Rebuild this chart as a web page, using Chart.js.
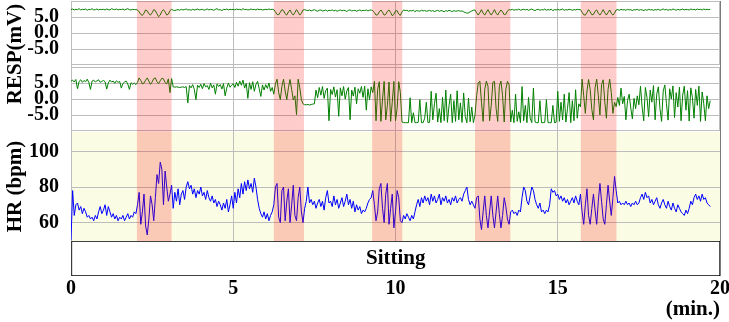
<!DOCTYPE html>
<html>
<head>
<meta charset="utf-8">
<script src="https://cdn.jsdelivr.net/npm/chart.js@4.4.1/dist/chart.umd.min.js"></script>
<style>
html, body { margin: 0; padding: 0; background: #fff; }
canvas { display: block; }
</style>
</head>
<body>
<canvas id="chart" width="729" height="322"></canvas>
<script>
// one sample every 0.05 min, from 0 to 19.7 min
const SAMPLE_MIN = 0.05;

// upper respiration channel (mV)
const respUpper = [
  7.3,7.5,7.2,7.4,7.3,7.6,7.2,7.4,7.3,7.5,7.1,7.4,7.3,7.6,7.2,7.3,7.5,7.2,7.4,7.3,
  7.4,7.2,7.5,7.3,7.2,7.6,7.4,7.3,7.5,7.2,7.4,7.3,7.5,7.2,7.4,7.6,7.3,7.2,7.4,7.3,
  7.3,7.2,6.6,5.8,5.5,6.2,7.2,6.9,6.0,5.6,6.3,7.3,7.0,6.0,5.1,5.6,6.8,7.3,6.6,5.6,
  5.9,7.0,7.4,7.1,7.0,7.2,7.3,7.1,7.4,7.2,7.3,7.5,7.2,7.3,7.1,7.4,7.2,7.3,7.5,7.2,
  7.3,7.4,7.1,7.3,7.5,7.2,7.4,7.3,7.1,7.4,7.6,7.2,7.3,7.0,7.4,7.3,7.5,7.2,7.4,7.3,
  7.4,7.2,7.5,7.3,7.4,7.2,7.6,7.3,7.4,7.2,7.3,7.5,7.3,7.4,7.2,7.5,7.3,7.4,7.2,7.3,
  7.4,7.3,7.5,7.3,7.4,7.3,6.6,5.8,5.7,6.5,7.3,7.0,6.0,5.6,6.6,7.2,6.2,5.6,6.4,7.3,
  6.5,5.6,6.2,7.2,7.3,7.1,7.0,7.2,6.9,7.1,7.3,7.0,6.8,7.1,7.2,6.9,7.0,7.2,6.8,7.1,
  7.0,7.2,6.9,7.1,6.8,7.0,7.2,6.9,7.1,7.0,6.7,7.1,7.2,6.9,7.0,7.1,6.8,7.0,7.2,6.9,
  7.1,7.0,7.2,6.9,7.1,7.2,7.0,6.4,5.6,5.7,6.6,7.2,6.5,5.6,5.8,6.8,7.2,6.4,5.4,5.8,
  6.9,7.0,5.9,5.5,6.6,7.2,7.0,7.1,6.8,7.0,6.9,7.1,6.7,7.0,6.9,6.8,7.1,6.9,7.0,6.8,
  6.9,7.1,6.8,7.0,6.7,6.9,7.1,6.8,7.0,6.9,6.6,7.0,6.8,7.1,6.9,6.7,7.0,6.8,6.9,7.0,
  6.8,6.9,6.6,6.4,6.2,6.3,6.6,6.9,7.1,7.2,6.3,5.6,6.4,7.3,6.2,5.6,6.5,7.3,6.3,5.6,
  6.4,7.3,6.2,5.6,6.5,7.2,6.6,5.7,5.9,6.9,7.3,7.2,7.4,7.1,7.3,7.2,7.5,7.1,7.3,7.4,
  7.2,7.4,7.1,7.3,7.5,7.2,7.0,7.3,7.4,7.1,7.3,7.2,7.5,7.1,7.3,7.2,7.4,7.0,7.3,7.2,
  7.4,7.2,7.3,7.5,7.1,7.3,7.2,7.4,7.3,7.1,7.3,7.2,7.4,7.3,7.3,6.5,5.7,5.6,6.4,7.3,
  6.6,5.7,5.8,6.8,7.2,6.2,5.6,6.4,7.3,6.3,5.6,6.4,7.2,6.2,5.6,6.2,7.2,7.3,7.1,7.4,
  7.2,7.3,7.1,7.4,7.2,7.3,7.0,7.3,7.2,7.4,7.1,7.3,7.2,7.0,7.3,7.1,7.4,7.2,7.3,7.1,
  7.3,7.2,7.4,7.1,7.3,7.5,7.2,7.4,7.1,7.3,7.2,7.5,7.3,7.1,7.4,7.2,7.3,7.5,7.2,7.4,
  7.3,7.2,7.5,7.3,7.4,7.2,7.5,7.3,7.4,7.2,7.5,7.3,7.4,7.3,7.4
];

// lower respiration channel (mV)
const respLower = [
  5.6,5.9,5.3,6.1,3.2,5.5,6.0,5.2,5.8,5.4,6.2,5.1,3.0,5.6,5.9,5.3,5.7,6.0,5.2,5.5,
  5.8,5.4,3.1,5.0,5.9,5.3,5.6,4.9,5.7,5.2,5.5,3.4,4.8,5.3,5.6,4.7,3.0,5.1,4.6,5.0,
  4.5,5.2,6.6,5.8,4.7,5.0,5.9,6.6,5.6,4.6,5.3,6.4,6.6,5.4,4.8,5.7,6.5,6.3,5.1,4.7,
  6.3,2.0,6.4,3.8,3.7,3.8,3.7,3.6,3.7,3.8,3.6,3.9,-1.2,4.2,3.5,4.5,3.0,-0.2,4.3,3.6,
  4.6,3.2,4.8,3.8,4.2,3.0,4.9,3.5,4.4,1.5,4.7,3.9,4.5,3.1,4.8,1.0,3.4,5.0,3.7,4.3,
  4.8,3.6,5.2,4.0,5.6,4.3,5.9,3.4,4.9,0.2,5.1,3.0,5.4,2.4,4.6,5.5,3.2,0.8,4.4,2.8,
  4.5,3.3,5.0,2.4,3.6,1.5,4.8,6.2,2.0,-0.2,4.0,6.2,2.5,-0.2,3.5,6.1,3.0,-0.3,1.0,-4.9,
  6.2,3.5,-0.2,-1.5,-1.8,-1.8,-1.7,-1.9,-1.7,-1.6,-1.5,2.8,0.4,3.6,1.2,3.9,0.2,2.6,3.4,-6.8,
  3.0,1.4,3.8,0.6,2.9,-5.4,3.5,1.0,3.9,0.0,2.5,3.6,-6.5,2.8,0.9,3.7,-1.5,3.2,1.8,3.9,
  0.5,4.0,-3.5,3.2,-0.2,3.8,2.0,5.5,-6.8,3.0,5.4,-7.0,0.0,5.5,-6.5,-2.0,5.3,-7.0,-1.0,5.5,
  -6.8,-3.0,5.4,2.0,-7.2,-7.4,-7.4,-7.4,-7.4,0.4,-7.4,-4.3,-7.4,-7.4,-7.3,-0.2,-7.4,-7.4,-6.0,-1.0,
  -7.4,-7.3,2.4,-6.5,-1.5,1.8,-7.2,-3.0,-7.4,0.5,-6.8,2.8,-7.3,-2.0,1.5,-7.4,-0.5,-7.0,2.6,-6.5,
  -1.2,-7.3,1.9,-5.5,-7.4,0.3,-7.1,-2.5,-7.4,-5.0,1.0,5.0,5.6,-1.0,-7.0,3.0,5.6,4.0,-6.8,-2.0,
  5.2,5.5,-3.0,-7.0,4.0,5.6,1.0,-7.2,3.0,5.5,4.5,-7.2,-3.5,-7.4,1.5,-7.0,-4.0,-7.4,3.9,-6.8,
  -2.0,-7.4,0.5,-6.0,-7.4,3.4,-7.2,-7.4,-7.4,-0.5,-7.4,-7.4,-7.3,-0.2,-7.4,-7.4,-7.4,-2.0,-7.4,-7.3,
  2.4,-7.0,-1.0,-6.5,1.5,-7.2,-3.0,2.0,-7.4,-0.5,-6.8,2.9,-6.0,-1.5,-2.5,6.2,1.0,-4.5,2.5,6.1,
  3.0,-3.3,-6.5,3.5,6.2,1.0,-5.0,4.5,6.0,-1.0,-6.0,3.0,6.2,2.0,-4.5,-1.0,-2.4,0.5,-2.0,3.4,
  -1.5,0.8,-6.5,-0.5,1.5,-2.8,-6.2,0.2,-3.0,1.0,-1.8,4.0,-2.5,-6.8,3.6,0.5,-5.5,2.8,-1.0,4.2,
  -6.5,1.5,3.8,-3.0,-7.0,2.5,4.4,-1.5,-6.6,3.2,0.0,4.1,-5.8,2.0,-2.5,3.7,-6.8,1.2,4.0,-3.5,
  2.6,-6.9,3.5,0.5,-6.0,3.0,-2.0,4.0,-7.0,2.2,-1.5,-6.8,1.0,-3.0,-0.5
];

// heart rate (bpm)
const heartRate = [
  50,78,64,70,71,67,69,65,68,66,63,64,62,63,61,64,62,66,69,65,
  67,70,64,69,66,63,65,62,64,61,63,62,64,61,63,65,62,64,63,66,
  65,70,77,59,66,76,58,53,62,75,70,61,74,87,82,94,90,70,89,80,
  72,76,81,68,77,72,79,70,76,78,73,80,83,79,81,76,79,74,78,76,
  80,75,77,73,78,74,72,75,71,73,69,72,70,67,71,68,73,66,70,75,
  68,77,71,79,74,82,76,83,78,84,79,82,77,85,80,73,68,65,63,66,
  62,65,61,64,66,70,80,82,63,60,78,80,61,72,79,60,70,81,64,61,
  74,80,66,60,68,72,80,71,73,70,72,68,71,73,69,72,67,74,78,71,
  72,69,75,70,73,68,71,74,69,72,76,70,73,68,72,66,70,67,69,65,
  67,66,68,71,73,74,78,70,61,66,79,82,68,60,76,82,59,68,76,57,
  66,78,74,61,60,64,62,65,63,61,64,62,66,70,73,69,74,71,75,72,
  74,70,76,72,75,71,73,76,70,74,72,75,71,73,70,74,72,75,71,73,
  74,72,76,78,80,73,70,72,70,68,74,75,62,56,66,75,64,57,66,75,
  64,57,66,75,65,57,64,74,69,62,59,66,67,65,66,64,67,66,74,80,
  78,72,70,75,80,78,73,70,68,71,66,67,65,67,66,70,79,77,78,75,
  76,73,75,72,74,71,73,70,72,74,71,75,72,70,76,66,59,70,79,64,
  59,68,76,67,59,72,82,72,62,59,70,81,72,64,74,86,78,71,72,70,
  71,70,72,70,71,69,71,70,72,70,71,74,76,73,77,74,75,71,73,70,
  72,74,70,68,71,73,70,68,72,69,67,71,68,66,70,68,66,65,64,67,
  65,68,72,70,74,76,73,75,72,76,73,74,71,70,69
];

// deep-breathing intervals (min)
const breathStart = [2.03, 6.25, 9.28, 12.45, 15.71];
const breathEnd   = [3.10, 7.18, 10.21, 13.54, 16.81];

// posture during the recording
const postureLabels = ['Sitting'];
const postureSpans  = [[0, 20]];

const respTicks = [-5, 0, 5];
const hrTicks   = [60, 80, 100];

const FONT_FAMILY = "'Liberation Serif', 'Times New Roman', serif";
const TICK_FONT  = { family: FONT_FAMILY, size: 20, weight: 'bold' };
const TITLE_FONT = { family: FONT_FAMILY, size: 21, weight: 'bold' };
const GREEN = 'rgb(0,128,0)';
const BLUE = 'rgb(0,0,255)';
const GRID = '#bdbdbd';
const HR_BG = '#fafde4';
const BAND_FILL = 'rgba(255,0,0,0.2)';
const AXIS_WIDTH = 71;

const toPoints = values => values.map((v, i) => ({ x: +(i * SAMPLE_MIN).toFixed(2), y: v }));

const fixedTicks = list => scale => { scale.ticks = list.map(v => ({ value: v })); };
const fixWidth = scale => {
  scale.width = AXIS_WIDTH;
  scale.paddingTop = 0;
  scale.paddingBottom = 0;
};

function traceAxis(weight, stackWeight, min, max, ticks, fmt) {
  return {
    type: 'linear',
    position: 'left',
    stack: 'panels',
    weight: weight,
    stackWeight: stackWeight,
    min: min,
    max: max,
    afterBuildTicks: fixedTicks(ticks),
    afterFit: fixWidth,
    ticks: { autoSkip: false, padding: 12, font: TICK_FONT, color: '#000', callback: fmt },
    grid: { color: GRID, drawTicks: false },
    border: { display: false }
  };
}

const panelDecor = {
  id: 'panelDecor',
  beforeDraw(chart) {
    const { ctx, scales: { x, yHr } } = chart;
    ctx.save();
    ctx.fillStyle = HR_BG;
    ctx.fillRect(x.left, yHr.top, x.right - x.left, yHr.bottom - yHr.top);
    ctx.restore();
  },
  beforeDatasetsDraw(chart) {
    const { ctx, scales } = chart;
    const x = scales.x;
    ctx.save();
    ctx.strokeStyle = GRID;
    ctx.lineWidth = 1;
    ['yRespUpper', 'yRespLower'].forEach(id => {
      const s = scales[id];
      const top = Math.round(s.getPixelForValue(10)) + 0.5;
      const bottom = Math.round(s.getPixelForValue(-10)) - 0.5;
      ctx.strokeRect(x.left + 0.5, top, x.right - x.left - 1, bottom - top);
    });
    ctx.restore();
  },
  afterDatasetsDraw(chart) {
    const { ctx, scales: { x, yRespUpper, yHr } } = chart;
    ctx.save();

    // breathing bands laid over the traces
    ctx.fillStyle = BAND_FILL;
    breathStart.forEach((start, i) => {
      const x0 = x.getPixelForValue(start);
      const x1 = x.getPixelForValue(breathEnd[i]);
      ctx.fillRect(x0, yRespUpper.top, x1 - x0, yHr.bottom - yRespUpper.top);
    });

    // posture name inside its bar
    const bar = chart.getDatasetMeta(3).data[0];
    ctx.fillStyle = '#000';
    ctx.font = 'bold 21px ' + FONT_FAMILY;
    ctx.textAlign = 'center';
    ctx.textBaseline = 'middle';
    ctx.fillText(postureLabels[0], (bar.x + bar.base) / 2, bar.y);

    // shared title for both respiration panels
    ctx.translate(15.5, yRespUpper.bottom - 13);
    ctx.rotate(-Math.PI / 2);
    ctx.fillText('RESP(mV)', 0, 0);
    ctx.restore();
  }
};

new Chart(document.getElementById('chart'), {
  type: 'line',
  data: {
    datasets: [
      { data: toPoints(respUpper), yAxisID: 'yRespUpper', borderColor: GREEN, borderWidth: 1, pointRadius: 0, tension: 0 },
      { data: toPoints(respLower), yAxisID: 'yRespLower', borderColor: GREEN, borderWidth: 1, pointRadius: 0, tension: 0 },
      { data: toPoints(heartRate), yAxisID: 'yHr', borderColor: BLUE, borderWidth: 1, pointRadius: 0, tension: 0 },
      {
        type: 'bar',
        indexAxis: 'y',
        data: postureSpans,
        xAxisID: 'x',
        yAxisID: 'yPosture',
        backgroundColor: '#fff',
        borderColor: '#000',
        borderWidth: 1,
        borderSkipped: false,
        barPercentage: 1,
        categoryPercentage: 1
      }
    ]
  },
  options: {
    responsive: false,
    animation: false,
    layout: { padding: { top: 1, right: 9, bottom: 0, left: 0 } },
    plugins: { legend: { display: false }, tooltip: { enabled: false } },
    scales: {
      x: {
        type: 'linear',
        min: 0,
        max: 20,
        ticks: { stepSize: 5, padding: 1, maxRotation: 0, font: TICK_FONT, color: '#000' },
        grid: { color: c => (c.tick && c.tick.value === 20 ? '#7a7a7a' : GRID), drawTicks: false },
        border: { display: false },
        title: { display: true, text: '(min.)', align: 'end', font: TITLE_FONT, color: '#000', padding: { top: 0, bottom: 0 } },
        afterFit: s => { s.height = 46; s.paddingLeft = 0; s.paddingRight = 0; }
      },
      yRespUpper: traceAxis(4, 66, -10.625, 10, respTicks, v => v.toFixed(1)),
      yRespLower: traceAxis(3, 65, -10.3125, 10, respTicks, v => v.toFixed(1)),
      yHr: Object.assign(traceAxis(2, 109, 49.59, 111, hrTicks, v => v), {
        title: { display: true, text: 'HR (bpm)', font: TITLE_FONT, color: '#000', padding: { top: 3, bottom: 0 } }
      }),
      yPosture: {
        type: 'category',
        labels: postureLabels,
        offset: true,
        position: 'left',
        stack: 'panels',
        weight: 1,
        stackWeight: 35,
        afterFit: fixWidth,
        ticks: { display: false },
        grid: { display: false },
        border: { display: false }
      }
    }
  },
  plugins: [panelDecor]
});
</script>
</body>
</html>
